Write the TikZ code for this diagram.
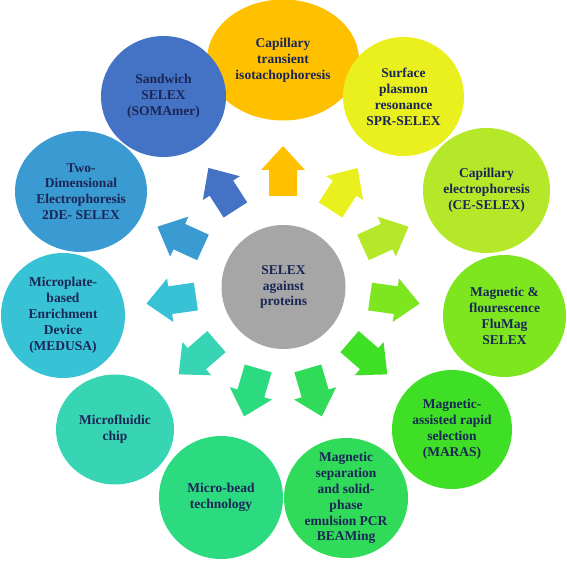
\documentclass[tikz,border=0pt]{standalone}
\usepackage{fontspec}
\setmainfont{Liberation Serif}
\usetikzlibrary{shapes.geometric}
\definecolor{txtc}{HTML}{1A2656}
\definecolor{cA}{HTML}{FFC000}
\definecolor{cB}{HTML}{E9F01E}
\definecolor{cC}{HTML}{B6E82A}
\definecolor{cD}{HTML}{7DE61F}
\definecolor{cE}{HTML}{3EDF24}
\definecolor{cF}{HTML}{31DB5A}
\definecolor{cG}{HTML}{2CDA80}
\definecolor{cH}{HTML}{38D5B5}
\definecolor{cI}{HTML}{37C3D5}
\definecolor{cJ}{HTML}{3A9AD2}
\definecolor{cK}{HTML}{4472C4}
\definecolor{cM}{HTML}{A6A6A6}
\begin{document}
\begin{tikzpicture}[x=1pt,y=-1pt,
  bub/.style={ellipse, fill=#1, draw=none, inner sep=0pt},
  lbl/.style={align=center, font=\fontsize{13.5}{15.9}\selectfont\bfseries, text=txtc, inner sep=0pt}]
\useasboundingbox (0,0) rectangle (567,561);
% block arrows
\foreach \a/\c in {90/cA, 57.27/cB, 24.55/cC, -8.18/cD, -40.9/cE, -73.64/cF, -106.36/cG, -139.1/cH, -171.82/cI, 155.45/cJ, 122.73/cK}{
  \fill[\c, shift={(283,284)}, rotate=\a] (88,-14) -- (114,-14) -- (114,-22) -- (138,0) -- (114,22) -- (114,14) -- (88,14) -- cycle;
}
% centre
\node[bub=cM, minimum width=124pt, minimum height=124pt] (ctr) at (283.5,287) {};
\node[lbl] (ctrt) at (ctr.center) {SELEX\\against\\proteins};
% outer bubbles
\node[bub=cA, minimum width=152pt, minimum height=121pt] (n1) at (283,60) {};
\node[lbl] (n1t) at (n1.center) {Capillary\\transient\\isotachophoresis};
\node[bub=cB, minimum width=121pt, minimum height=119pt] (n2) at (403.5,96.5) {};
\node[lbl] (n2t) at (n2.center) {Surface\\plasmon\\resonance\\SPR-SELEX};
\node[bub=cC, minimum width=127pt, minimum height=125pt] (n3) at (486.5,190.5) {};
\node[lbl] (n3t) at (n3.center) {Capillary\\electrophoresis\\(CE-SELEX)};
\node[bub=cD, minimum width=123pt, minimum height=122pt] (n4) at (504.5,316) {};
\node[lbl] (n4t) at (n4.center) {Magnetic \&\\flourescence\\FluMag\\SELEX};
\node[bub=cE, minimum width=120pt, minimum height=119pt] (n5) at (452,429.5) {};
\node[lbl] (n5t) at (n5.center) {Magnetic-\\assisted rapid\\selection\\(MARAS)};
\node[bub=cF, minimum width=124pt, minimum height=120pt] (n6) at (346,498) {};
\node[lbl] (n6t) at (n6.center) {Magnetic\\separation\\and solid-\\phase\\emulsion PCR\\BEAMing};
\node[bub=cG, minimum width=124pt, minimum height=123pt] (n7) at (221,497.5) {};
\node[lbl] (n7t) at (n7.center) {Micro-bead\\technology};
\node[bub=cH, minimum width=118pt, minimum height=110pt] (n8) at (115,429.5) {};
\node[lbl] (n8t) at (n8.center) {Microfluidic\\chip};
\node[bub=cI, minimum width=124pt, minimum height=125pt] (n9) at (63,315.5) {};
\node[lbl] (n9t) at (n9.center) {Microplate-\\based\\Enrichment\\Device\\(MEDUSA)};
\node[bub=cJ, minimum width=132pt, minimum height=121pt] (n10) at (81,191.5) {};
\node[lbl] (n10t) at (n10.center) {Two-\\Dimensional\\Electrophoresis\\2DE- SELEX};
\node[bub=cK, minimum width=125pt, minimum height=121pt] (n11) at (163.5,96.5) {};
\node[lbl] (n11t) at (n11.center) {Sandwich\\SELEX\\(SOMAmer)};
\end{tikzpicture}
\end{document}
